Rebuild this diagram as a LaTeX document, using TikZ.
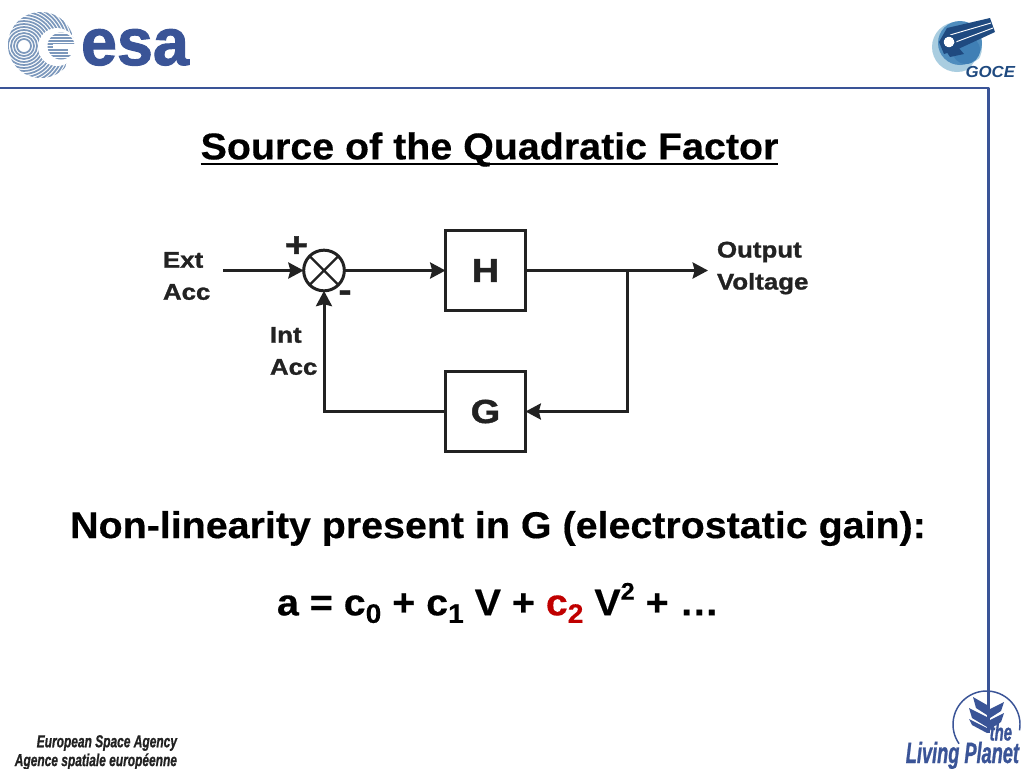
\documentclass[tikz,border=0pt]{standalone}
\usepackage{graphicx}
\usepackage{fontspec}
\setmainfont{Liberation Sans}
\newfontfamily\titlef[UprightFont=* Bold,FakeStretch=1.055,FakeBold=0.4]{Liberation Sans}
\newfontfamily\heavyf[UprightFont=* Bold,FakeStretch=1.14,FakeBold=1.2]{Liberation Sans}
\newfontfamily\esaf[UprightFont=* Bold,FakeStretch=0.97,FakeBold=1.5]{Liberation Sans}
\newfontfamily\logoif[UprightFont=* Bold Italic,FakeStretch=0.62,FakeBold=0.8]{Liberation Sans}
\newfontfamily\namef[UprightFont=* Bold Italic,FakeStretch=0.69,FakeBold=0.8]{Liberation Sans}
\newfontfamily\gocef[UprightFont=* Bold Italic,FakeStretch=1.05]{Liberation Sans}
\definecolor{esablue}{HTML}{3A5497}
\definecolor{stripe}{HTML}{7C98BC}
\definecolor{lineblk}{HTML}{222222}
\definecolor{redc}{HTML}{C00000}
\definecolor{gocedark}{HTML}{1F4A80}
\definecolor{gocemid}{HTML}{4F8DBE}
\definecolor{gocedeep}{HTML}{3F7FB5}
\definecolor{gocepale}{HTML}{A9CDE0}
\newcommand{\fsz}[1]{\fontsize{#1}{#1}\selectfont}
\newcommand{\sbs}[1]{\raisebox{-0.2em}{\fsz{20}#1}}
\newcommand{\sps}[1]{\raisebox{0.42em}{\fsz{18}#1}}
\usetikzlibrary{arrows.meta}
\tikzset{
  every node/.style={inner sep=0pt,outer sep=0pt},
  blockbox/.style={draw=lineblk,line width=2.25pt,minimum width=60pt,minimum height=60pt,font=\heavyf\fsz{25},text=lineblk},
  sumnode/.style={circle,draw=lineblk,line width=2.25pt,minimum size=30.5pt},
  wire/.style={draw=lineblk,line width=2.25pt},
  flow/.style={wire,-{Stealth[length=11.5pt,width=12pt,inset=1.5pt]}},
  lab/.style={font=\heavyf\fontsize{17}{24}\selectfont,text=lineblk,align=left,anchor=west},
  heading/.style={font=\titlef\fsz{28},text=black},
}
\begin{document}
\begin{tikzpicture}[x=0.75pt,y=-0.75pt]
\useasboundingbox (0,0) rectangle (1024,768);
\fill[white] (0,0) rectangle (1024,768);
% frame
\coordinate (frameA) at (0,88);
\coordinate (frameB) at (988.5,88);
\coordinate (frameC) at (988.5,733);
\draw[esablue,line width=1.9pt,line join=round] (frameA) -- (frameB) -- (frameC);
% ESA logo
\begin{scope}
 \clip (41,45) circle (33);
 \foreach \r in {7,10,...,70}{\draw[stripe,line width=1.3pt] (24,46) circle (\r);}
\end{scope}
\fill[white] (57,47) circle (19);
\fill[white] (70,50) -- (80,48) -- (80,72) -- (64,72) -- cycle;
\begin{scope}
 \clip (61,46) circle (13.5);
 \foreach \r in {0,3,...,30}{\draw[stripe,line width=1.3pt] (40,32+\r) -- (80,32+\r);}
\end{scope}
\fill[white] (53,44) rectangle (76,48);
\fill[white] (68,48) rectangle (76,54);
\fill[white] (24,46) circle (4);
\node[anchor=base west,text=esablue,font=\esaf\fsz{50}] (esa) at (81,65) {esa};
% GOCE logo
\fill[gocepale] (957,47) circle (25);
\fill[gocemid] (960,43) circle (22);
\fill[gocedeep] (966,50) circle (14);
\fill[white] (984,72) circle (14);
\fill[white] (983,40) rectangle (1005,78);
\fill[gocedark] (947,28) -- (990,18) -- (995,32) -- (956,50) -- (944,54) -- (939,42) -- cycle;
\draw[white,line width=0.7pt] (950,35) -- (991,23) (953,43) -- (993,28);
\fill[white] (949,42) circle (5.5);
\draw[gocedark,line width=1.5pt] (949,42) circle (6.5);
\fill[gocedark] (946,51) -- (958,47) -- (964,54) -- (950,57) -- cycle;
\node[text=gocedark,anchor=east,font=\gocef\fsz{12}] (goce) at (1015,72) {GOCE};
% Living Planet logo
\draw[esablue,line width=1.1pt] ([shift={(986.5,724.5)}]10:33.5) arc (10:-215:33.5);
\fill[esablue] (973,697) -- (987,705) -- (987,715) -- (976,708) -- cycle;
\fill[esablue] (969,708) -- (987,717) -- (987,727) -- (972,718) -- cycle;
\fill[esablue] (969,719) -- (987,728) -- (987,733) -- (972,725) -- cycle;
\fill[esablue] (1004,702) -- (990,709) -- (990,718) -- (1001,711) -- cycle;
\fill[esablue] (1004,713) -- (990,720) -- (990,729) -- (1001,722) -- cycle;
\node[anchor=base east,text=esablue,font=\logoif\fsz{18}] (the) at (1012,740.5) {the};
\node[anchor=base east,text=esablue,font=\logoif\fsz{22}] (living) at (1019,763) {Living Planet};
% ESA names
\node[anchor=east,text=lineblk,font=\namef\fsz{13}] (esaen) at (177,743) {European Space Agency};
\node[anchor=east,text=lineblk,font=\namef\fsz{13}] (esafr) at (177,761.5) {Agence spatiale européenne};
% title
\node[heading,anchor=center] (title) at (489.5,149.5) {Source of the Quadratic Factor};
\coordinate (ua) at (title.west |- 0,164);
\coordinate (ub) at (title.east |- 0,164);
\draw[black,line width=1.5pt] (ua) -- (ub);
% diagram
\node[sumnode] (sum) at (324,270.5) {};
\draw[wire,line width=1.7pt] (sum.45) -- (sum.225) (sum.135) -- (sum.315);
\node[blockbox] (H) at (485.5,270.5) {H};
\node[blockbox] (G) at (485.5,411.5) {G};
\coordinate (extin) at (223,270.5);
\coordinate (outp) at (708,270.5);
\coordinate (tap) at (627,270.5);
\coordinate (fbr) at (627,411.5);
\coordinate (fbl) at (324,411.5);
\draw[flow] (extin) -- (sum.west);
\draw[flow] (sum.east) -- (H.west);
\draw[flow] (H.east) -- (outp);
\draw[flow] (tap) -- (fbr) -- (G.east);
\draw[flow] (G.west) -- (fbl) -- (sum.south);
\node[lab] (ext) at (163,276) {Ext\\Acc};
\node[lab] (int) at (270,351) {Int\\Acc};
\node[lab] (out) at (717,268) {Output\\Voltage};
\node[text=lineblk,font=\heavyf\fsz{26}] (plus) at (296.5,246.5) {+};
\node[text=lineblk,font=\heavyf\fsz{26}] (minus) at (345,296) {-};
% text
\node[heading,anchor=center] (nl) at (498,528.5) {Non-linearity present in G (electrostatic gain):};
\node[heading,anchor=center] (eq) at (498,603) {a = c\sbs{0} + c\sbs{1} V + \textcolor{redc}{c\sbs{2}} V\sps{2} + …};
\end{tikzpicture}
\end{document}
